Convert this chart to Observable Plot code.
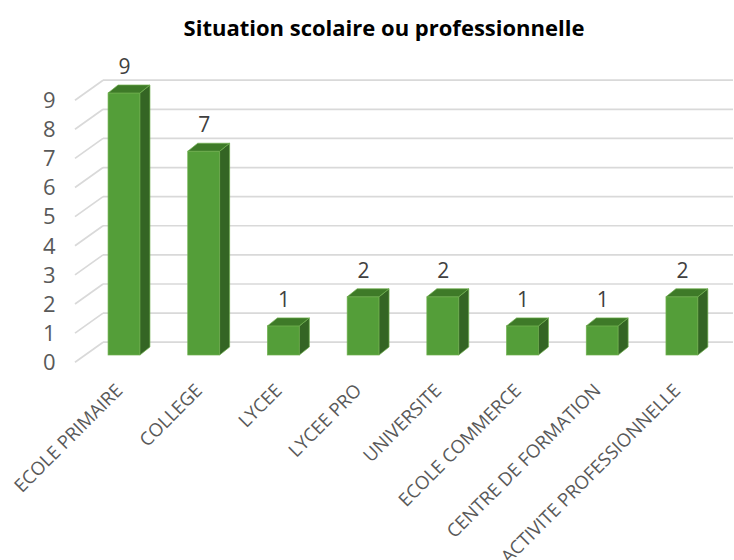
<!DOCTYPE html>
<html><head><meta charset="utf-8">
<script src="https://cdn.jsdelivr.net/npm/d3@7"></script>
<script src="https://cdn.jsdelivr.net/npm/@observablehq/plot@0.6"></script>
<style>
html,body{margin:0;padding:0;background:#fff;overflow:hidden;width:734px;height:560px}
#title{height:40px;padding-left:34px;text-align:center;font:bold 22px/54px "Open Sans",sans-serif;color:#000;white-space:nowrap}
svg{display:block;overflow:hidden}
</style></head><body>
<div id="title">Situation scolaire ou professionnelle</div>
<div id="chart"></div>
<script>
const categories = ["ECOLE PRIMAIRE","COLLEGE","LYCEE","LYCEE PRO","UNIVERSITE","ECOLE COMMERCE","CENTRE DE FORMATION","ACTIVITE PROFESSIONNELLE"];
const values = [9,7,1,2,2,1,1,2];
const yTicks = [0,1,2,3,4,5,6,7,8,9];
const data = categories.map((c,i)=>({c,v:values[i]}));

const front="#549E39", side="#346524", top_="#3E7A28", edge="#70B04F", grid="#D9D9D9";
const depthX=10, depthY=8;

function extrude(index, scales, channels, dims, context, next){
  const g = next(index, scales, channels, dims, context);
  d3.select(g).selectAll("rect").each(function(){
    const x=+this.getAttribute("x"), y=+this.getAttribute("y"),
          w=+this.getAttribute("width"), h=+this.getAttribute("height");
    const p=d3.select(g);
    p.append("polygon").attr("fill",side)
      .attr("points",[[x+w,y],[x+w+depthX,y-depthY],[x+w+depthX,y+h-depthY],[x+w,y+h]].join(" "));
    p.append("polygon").attr("fill",top_)
      .attr("points",[[x,y],[x+depthX,y-depthY],[x+w+depthX,y-depthY],[x+w,y]].join(" "));
  });
  return g;
}
function slant(index, scales, channels, dims, context, next){
  const g = next(index, scales, channels, dims, context);
  d3.select(g).selectAll("line").each(function(){
    const y=+this.getAttribute("y1");
    this.setAttribute("y1",y+6.7);
    this.setAttribute("y2",y-13.3);
  });
  return g;
}

const chart = Plot.plot({
  width:734, height:520,
  marginLeft:84.15, marginRight:12.25, marginTop:53, marginBottom:205,
  style:{fontFamily:'"Open Sans",sans-serif',background:"transparent"},
  x:{domain:categories, paddingInner:0.6, paddingOuter:0.3, round:false, label:null},
  y:{domain:[0,9], label:null},
  marks:[
    Plot.ruleY(yTicks,{y:d=>d,stroke:grid,strokeWidth:1.7,dy:-13.3,insetLeft:18.85,insetRight:-11.25}),
    Plot.ruleY(yTicks,{y:d=>d,stroke:grid,strokeWidth:1.7,insetLeft:-9.15,insetRight:618.7,render:slant}),
    Plot.barY(data,{x:"c",y:"v",fill:front,stroke:edge,strokeWidth:0.7,render:extrude}),
    Plot.text(data,{x:"c",y:"v",text:d=>String(d.v),dy:-26,fontSize:21,fill:"#404040"}),
    Plot.axisY(yTicks,{anchor:"left",tickSize:0,tickPadding:29,dy:7.5,fontSize:22,fill:"#595959",label:null}),
    Plot.axisX({anchor:"bottom",tickSize:0,tickPadding:29,tickRotate:-45,dx:-5,dy:3,fontSize:18.5,fill:"#595959",label:null})
  ]
});
document.getElementById("chart").append(chart);
</script>
</body></html>
